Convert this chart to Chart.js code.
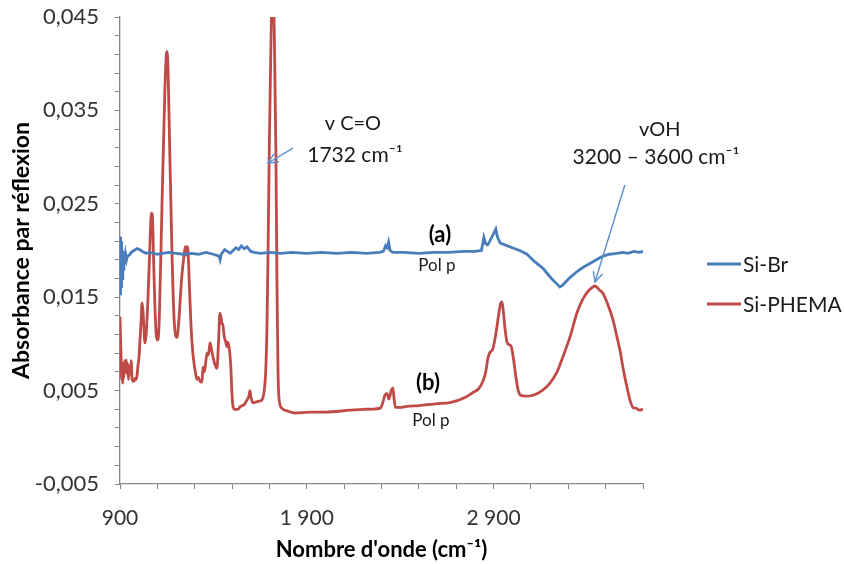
<!DOCTYPE html>
<html>
<head>
<meta charset="utf-8">
<script src="https://cdn.jsdelivr.net/npm/chart.js@4/dist/chart.umd.min.js"></script>
<style>
html,body{margin:0;padding:0;background:#fff;}
#wrap{width:844px;height:564px;position:relative;}
</style>
</head>
<body>
<div id="wrap"><canvas id="c" width="844" height="564"></canvas></div>
<script>
// ---- Data ----
const seriesNames = ["Si-Br", "Si-PHEMA"];
const xTickLabelsAt = [900, 1900, 2900];
const yTickLabelsAt = [-0.005, 0.005, 0.015, 0.025, 0.035, 0.045];

const blueWn = [900,902,904,906,908,910,912,915,918,921,925,930,935,940,950,960,975,990,1005,1020,1040,1060,1080,1100,1130,1160,1200,1240,1280,1320,1360,1400,1430,1436,1442,1460,1475,1490,1500,1520,1535,1550,1565,1580,1600,1620,1650,1700,1760,1820,1900,1980,2060,2140,2220,2290,2310,2322,2330,2338,2346,2360,2420,2500,2580,2660,2740,2800,2835,2848,2858,2868,2880,2900,2912,2920,2935,2961,3000,3040,3079,3120,3164,3210,3240,3255,3270,3309,3350,3380,3416,3450,3486,3520,3560,3593,3620,3650,3680,3700];
const blueAbs = [0.0195,0.0215,0.0152,0.0210,0.0160,0.0205,0.0170,0.0200,0.0180,0.0198,0.0186,0.0196,0.0190,0.0194,0.0195,0.0198,0.0200,0.0202,0.0201,0.0199,0.0197,0.0198,0.0197,0.0196,0.0197,0.0198,0.0197,0.0196,0.0197,0.0196,0.0198,0.0196,0.0194,0.0190,0.0196,0.0201,0.0199,0.0197,0.0199,0.0203,0.0201,0.0205,0.0202,0.0204,0.0199,0.0198,0.0197,0.0198,0.0197,0.0198,0.0197,0.0198,0.0197,0.0198,0.0197,0.0198,0.0199,0.0205,0.0203,0.0209,0.0200,0.0198,0.0198,0.0197,0.0198,0.0198,0.0199,0.0199,0.0200,0.0214,0.0207,0.0206,0.0210,0.0218,0.0223,0.0215,0.0208,0.0206,0.0203,0.0200,0.0196,0.0188,0.0181,0.0170,0.0164,0.0161,0.0163,0.0171,0.0178,0.0182,0.0186,0.0190,0.0194,0.0196,0.0197,0.0198,0.0197,0.0199,0.0198,0.0199];

const redWn = [900,903,906,909,912,915,918,921,925,929,933,937,941,945,950,955,960,965,970,975,981,987,992,997,1002,1007,1013,1018,1023,1028,1034,1040,1050,1060,1068,1073,1080,1087,1095,1103,1110,1125,1140,1148,1152,1157,1165,1178,1190,1205,1215,1230,1243,1250,1256,1259,1264,1272,1280,1290,1296,1305,1312,1320,1328,1339,1344,1352,1360,1366,1373,1382,1390,1398,1408,1419,1427,1435,1441,1446,1451,1458,1465,1473,1478,1485,1492,1500,1505,1515,1532,1545,1558,1569,1580,1590,1596,1602,1612,1630,1650,1660,1672,1680,1687,1692,1700,1708,1713,1722,1727,1735,1740,1746,1752,1767,1799,1837,1917,2000,2131,2200,2292,2305,2318,2329,2340,2352,2361,2368,2375,2400,2436,2500,2600,2666,2750,2790,2820,2843,2858,2870,2881,2895,2910,2925,2937,2945,2952,2962,2972,2985,2995,3008,3020,3032,3045,3070,3111,3160,3202,3240,3271,3310,3346,3375,3400,3425,3443,3465,3486,3510,3539,3560,3577,3595,3614,3630,3646,3665,3680,3700];
const redAbs = [0.0129,0.0105,0.0085,0.0062,0.0080,0.0058,0.0075,0.0064,0.0082,0.0070,0.0083,0.0068,0.0079,0.0062,0.0076,0.0068,0.0082,0.0062,0.0060,0.0060,0.0063,0.0062,0.0068,0.0078,0.0086,0.0104,0.0125,0.0144,0.0136,0.0117,0.0101,0.0110,0.0150,0.0205,0.0240,0.0238,0.0190,0.0140,0.0108,0.0104,0.0125,0.0250,0.0370,0.0410,0.0413,0.0395,0.0320,0.0200,0.0125,0.0107,0.0125,0.0170,0.0195,0.0204,0.0195,0.0204,0.0200,0.0160,0.0120,0.0090,0.0080,0.0068,0.0062,0.0064,0.0060,0.0059,0.0075,0.0070,0.0082,0.0090,0.0088,0.0101,0.0094,0.0086,0.0078,0.0074,0.0100,0.0133,0.0128,0.0122,0.0120,0.0108,0.0103,0.0097,0.0102,0.0095,0.0080,0.0045,0.0033,0.0030,0.0030,0.0033,0.0034,0.0036,0.0040,0.0044,0.0050,0.0042,0.0037,0.0038,0.0039,0.0040,0.0050,0.0070,0.0120,0.0190,0.0320,0.0420,0.0465,0.0465,0.0420,0.0300,0.0170,0.0070,0.0040,0.0031,0.0028,0.0026,0.0027,0.0027,0.0029,0.0030,0.0031,0.0036,0.0045,0.0047,0.0041,0.0050,0.0053,0.0040,0.0032,0.0032,0.0033,0.0034,0.0036,0.0037,0.0043,0.0048,0.0052,0.0060,0.0070,0.0085,0.0091,0.0094,0.0108,0.0128,0.0143,0.0145,0.0135,0.0115,0.0102,0.0099,0.0097,0.0082,0.0064,0.0050,0.0045,0.0044,0.0045,0.0050,0.0058,0.0070,0.0086,0.0108,0.0133,0.0147,0.0155,0.0160,0.0162,0.0158,0.0154,0.0143,0.0126,0.0108,0.0093,0.0072,0.0054,0.0040,0.0032,0.0031,0.0029,0.0030];

// ---- Annotations, anchored in data units ----
const textNotes = [
  {text:"v C=O", x:2147, y:0.03354, bold:false, size:20},
  {text:"1732 cm\u207B\u00B9", x:2158, y:0.03022, bold:false, size:21},
  {text:"vOH", x:3790, y:0.03300, bold:false, size:20},
  {text:"3200 \u2013 3600 cm\u207B\u00B9", x:3770, y:0.03000, bold:false, size:21},
  {text:"(a)", x:2613, y:0.02166, bold:true, size:22},
  {text:"Pol p", x:2597, y:0.01834, bold:false, size:17},
  {text:"(b)", x:2549, y:0.00581, bold:true, size:22},
  {text:"Pol p", x:2565, y:0.00185, bold:false, size:17}
];
const arrowNotes = [
  {x1:1826, y1:0.03097, x2:1692, y2:0.02937},
  {x1:3603, y1:0.02701, x2:3443, y2:0.01663}
];

const FONT = "Lato, 'Open Sans', sans-serif";
const AXIS = "#868686";
const TXT = "#333333";
const BLUE = "#4a7ebb";
const RED = "#be4b48";
const ARROW = "#5b8fd0";

function pts(xs, ys){ return xs.map((x,i)=>({x:x, y:ys[i]})); }
function fmtX(v){ return String(v).replace(/\B(?=(\d{3})+(?!\d))/g, " "); }

const notesPlugin = {
  id:'notes',
  afterDatasetsDraw(chart){
    const ctx = chart.ctx, xs = chart.scales.x, ys = chart.scales.y;
    ctx.save();
    ctx.textAlign = 'center'; ctx.textBaseline = 'middle';
    textNotes.forEach(n=>{
      ctx.font = (n.bold?'bold ':'') + n.size + 'px ' + FONT;
      ctx.fillStyle = n.bold ? '#000' : '#1a1a1a';
      ctx.fillText(n.text, xs.getPixelForValue(n.x), ys.getPixelForValue(n.y));
    });
    ctx.strokeStyle = ARROW; ctx.lineWidth = 1.4;
    arrowNotes.forEach(a=>{
      const x1 = xs.getPixelForValue(a.x1), y1 = ys.getPixelForValue(a.y1);
      const x2 = xs.getPixelForValue(a.x2), y2 = ys.getPixelForValue(a.y2);
      ctx.beginPath(); ctx.moveTo(x1,y1); ctx.lineTo(x2,y2); ctx.stroke();
      const ang = Math.atan2(y2-y1, x2-x1), L = 11, w = 0.45;
      ctx.beginPath();
      ctx.moveTo(x2 - L*Math.cos(ang-w), y2 - L*Math.sin(ang-w));
      ctx.lineTo(x2, y2);
      ctx.lineTo(x2 - L*Math.cos(ang+w), y2 - L*Math.sin(ang+w));
      ctx.stroke();
    });
    // legend
    const lx = chart.chartArea.right + 64;
    chart.data.datasets.forEach((d,i)=>{
      const yy = 264 + i*40;
      ctx.strokeStyle = d.borderColor; ctx.lineWidth = 2.8;
      ctx.beginPath(); ctx.moveTo(lx, yy); ctx.lineTo(lx+34, yy); ctx.stroke();
      ctx.font = '21px ' + FONT; ctx.fillStyle = '#1a1a1a'; ctx.textAlign = 'left';
      ctx.fillText(d.label, lx+36, yy+1);
    });
    ctx.restore();
  }
};

new Chart(document.getElementById('c'), {
  type:'line',
  data:{ datasets:[
    {label:seriesNames[0], data:pts(blueWn, blueAbs), borderColor:BLUE, borderWidth:2.8, pointRadius:0, tension:0, fill:false},
    {label:seriesNames[1], data:pts(redWn, redAbs), borderColor:RED, borderWidth:2.8, pointRadius:0, cubicInterpolationMode:'monotone', fill:false}
  ]},
  options:{
    responsive:false, animation:false, devicePixelRatio:1,
    layout:{padding:{left:0, top:17, right:201, bottom:0}},
    plugins:{legend:{display:false}, tooltip:{enabled:false}},
    scales:{
      x:{
        type:'linear', min:900, max:3700,
        afterFit(s){ s.height = 80; s.paddingLeft = 0; s.paddingRight = 0; },
        ticks:{ stepSize:200, autoSkip:false, maxRotation:0, color:TXT, padding:17,
          font:{family:FONT, size:21},
          callback(v){ return xTickLabelsAt.includes(v) ? fmtX(v) : ''; } },
        grid:{ display:true, drawOnChartArea:false, drawTicks:true, tickLength:5, color:AXIS },
        border:{ display:true, color:AXIS, width:1.3 },
        title:{ display:true, text:"Nombre d'onde (cm\u207B\u00B9)", color:'#000', padding:{top:0, bottom:1}, font:{family:FONT, size:22, weight:'bold'} }
      },
      y:{
        type:'linear', min:-0.005, max:0.045,
        afterFit(s){ s.width = 120; s.paddingTop = 4; s.paddingBottom = 4; },
        ticks:{ stepSize:0.002, autoSkip:false, color:TXT, padding:16,
          font:{family:FONT, size:22},
          callback(v){ return yTickLabelsAt.some(t=>Math.abs(t-v)<1e-6) ? v.toFixed(3).replace('.', ',') : ''; } },
        grid:{ display:true, drawOnChartArea:false, drawTicks:true, tickLength:5, color:AXIS },
        border:{ display:true, color:AXIS, width:1.3 },
        title:{ display:true, text:"Absorbance par r\u00E9flexion", color:'#000', padding:{top:8, bottom:0}, font:{family:FONT, size:23, weight:'bold'} }
      }
    }
  },
  plugins:[notesPlugin]
});
</script>
</body>
</html>
